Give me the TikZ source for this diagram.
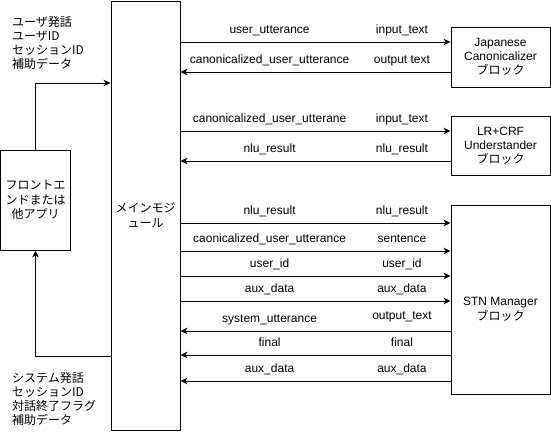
\documentclass[tikz,border=0pt]{standalone}
\usepackage{fontspec}
\setmainfont{Liberation Sans}
\newfontfamily\jp{Noto Sans CJK JP}
\usetikzlibrary{arrows.meta}

\begin{document}
\begin{tikzpicture}[x=1pt, y=-1pt,
box/.style={rectangle, draw, line width=0.9pt, align=center, font=\fontsize{12}{14}\selectfont},
jbox/.style={box, font=\jp\fontsize{12}{14.5}\selectfont},
jtxt/.style={align=left, inner sep=0pt, font=\jp\fontsize{12}{14}\selectfont},
lbl/.style={anchor=base, yshift=9pt, inner sep=0pt, font=\fontsize{12}{14}\selectfont},
arr/.style={line width=0.9pt, -{Stealth[length=7pt, width=6.5pt, inset=2pt]}},
]
\useasboundingbox (0,0) rectangle (551,431);

\node[jbox, minimum width=69, minimum height=429] (main) at (145.5,215.5) {メインモジ\\ュール};
\node[jbox, minimum width=70, minimum height=100] (front) at (35.5,200) {フロントエ\\ンドまたは\\他アプリ};

\node[box, minimum width=99, minimum height=60] (jcan) at (500.5,57) {Japanese\\Canonicalizer\\{\jp ブロック}};
\node[box, minimum width=99, minimum height=59] (lrcrf) at (500.5,145.5) {LR+CRF\\Understander\\{\jp ブロック}};
\node[box, minimum width=99, minimum height=189,
label={[font=\fontsize{12}{14.5}\selectfont, align=center, yshift=-10pt]center:STN Manager\\{\jp ブロック}}] (stn) at (500.5,299.5) {};

\node[jtxt, anchor=west] (inlist) at (12,43) {ユーザ発話\\ユーザID\\セッションID\\補助データ};
\node[jtxt, anchor=west] (outlist) at (12,399) {システム発話\\セッションID\\対話終了フラグ\\補助データ};

% frontend <-> main
\draw[arr] (front.north) |- (main.west |- 0,83);
\draw[arr] (main.west |- 0,356) -| (front.south);

% canonicalizer
\draw[arr] (main.east |- 0,42) -- (jcan.west |- 0,42) node[lbl, pos=.33] {user\_utterance} node[lbl, pos=.82] {input\_text};
\draw[arr] (jcan.west |- 0,72) -- (main.east |- 0,72) node[lbl, pos=.67] {canonicalized\_user\_utterance} node[lbl, pos=.18] {output text};

% understander
\draw[arr] (main.east |- 0,131) -- (lrcrf.west |- 0,131) node[lbl, pos=.33] {canonicalized\_user\_utterane} node[lbl, pos=.82] {input\_text};
\draw[arr] (lrcrf.west |- 0,161) -- (main.east |- 0,161) node[lbl, pos=.67] {nlu\_result} node[lbl, pos=.18] {nlu\_result};

% manager
\draw[arr] (main.east |- 0,223) -- (stn.west |- 0,223) node[lbl, pos=.33] {nlu\_result} node[lbl, pos=.82] {nlu\_result};
\draw[arr] (main.east |- 0,251) -- (stn.west |- 0,251) node[lbl, pos=.33] {caonicalized\_user\_utterance} node[lbl, pos=.82] {sentence};
\draw[arr] (main.east |- 0,276) -- (stn.west |- 0,276) node[lbl, pos=.33] {user\_id} node[lbl, pos=.82] {user\_id};
\draw[arr] (main.east |- 0,301) -- (stn.west |- 0,301) node[lbl, pos=.33] {aux\_data} node[lbl, pos=.82] {aux\_data};
\draw[arr] (stn.west |- 0,331) -- (main.east |- 0,331) node[lbl, pos=.67] {system\_utterance} node[lbl, pos=.18, yshift=3pt] {output\_text};
\draw[arr] (stn.west |- 0,355) -- (main.east |- 0,355) node[lbl, pos=.67] {final} node[lbl, pos=.18] {final};
\draw[arr] (stn.west |- 0,381) -- (main.east |- 0,381) node[lbl, pos=.67] {aux\_data} node[lbl, pos=.18] {aux\_data};
\end{tikzpicture}
\end{document}
